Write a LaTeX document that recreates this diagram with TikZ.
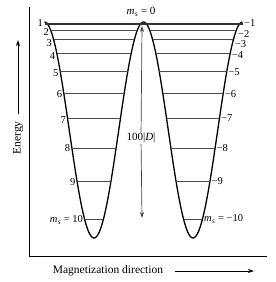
\documentclass[tikz,border=0pt]{standalone}
\usepackage{fontspec}
\setmainfont{Liberation Serif}
\usetikzlibrary{arrows.meta}
\newcommand{\msub}{\textit{m}\kern0.3pt\textsubscript{\textit{s}}}

\begin{document}
\begin{tikzpicture}[x=1pt, y=-1pt, font=\fontsize{11}{13}\selectfont,
  level/.style={black!70, line width=0.6pt},
  well/.style={line width=1.3pt, line join=round},
  lab/.style={inner xsep=1.5pt, inner ysep=0pt, font=\fontsize{10.5}{12}\selectfont},
  tip/.style={-{Stealth[length=6pt,width=4pt]}}]
  \useasboundingbox (0,0) rectangle (276,282);
  % axes
  \draw[line width=1pt] (29,7) -- (29,256) -- (267,256);
  \node[rotate=90, font=\fontsize{11.5}{13}\selectfont] (energy) at (18,138) {Energy};
  \coordinate (energytip) at (18,40);
  \draw[tip, line width=0.8pt] ([yshift=4pt]energy.east) -- (energytip);
  \node[font=\fontsize{11.5}{13}\selectfont] (magdir) at (108,271) {Magnetization direction};
  \coordinate (magtip) at (254,271);
  \draw[tip, line width=0.8pt] ([xshift=8pt]magdir.east) -- (magtip);
  % double well
  \draw[well] plot[domain=44.5:242.5, samples=201, smooth] (\x,{130+108*cos(3.63636*(\x-94))});
  % top level
  \coordinate (a1) at (44.5,24);
  \coordinate (d1) at (242.5,24);
  \draw[level, line width=1.2pt, black!80] (a1) -- (d1);
  \node[lab, left, yshift=1pt] (L1) at (a1) {1};
  \node[lab, right, yshift=0.5pt] (R1) at (d1) {−1};
  % levels m = 2 ... 10 (label shifts left/right)
  \foreach \m/\dl/\dr in {2/-2.5/-4, 3/-3.5/-4.8, 4/-2.5/-1.5, 5/-2/-1, 6/-1/-1,
                          7/-2/0, 8/0/0, 9/-1/0, 10/-1/0} {
    \pgfmathsetmacro\yy{22+1.97*\m*\m}
    \pgfmathsetmacro\ww{0.275*acos((\yy-130)/108)}
    \coordinate (a\m) at (94-\ww,\yy);
    \coordinate (b\m) at (94+\ww,\yy);
    \coordinate (c\m) at (193-\ww,\yy);
    \coordinate (d\m) at (193+\ww,\yy);
    \draw[level] (a\m) -- (b\m) (c\m) -- (d\m);
    \ifnum\m=10
      \node[lab, left, yshift=\dl pt] (L\m) at (a\m) {\msub{} = 10};
      \node[lab, right, yshift=\dr pt] (R\m) at (d\m) {\msub{} = −10};
    \else
      \node[lab, left, yshift=\dl pt] (L\m) at (a\m) {\m};
      \node[lab, right, yshift=\dr pt] (R\m) at (d\m) {−\m};
    \fi
  }
  % m_s = 0 and the depth
  \node (ms0) at (141,12) {\msub{} = 0};
  \node[fill=white, inner sep=1pt] (depth) at (141,138) {100|\textit{D}|};
  \coordinate (depthtop) at (142,26);
  \coordinate (depthbot) at (142,218);
  \draw[tip, line width=0.7pt, black!75] (depth) -- (depthtop);
  \draw[tip, line width=0.7pt, black!75] (depth) -- (depthbot);
\end{tikzpicture}
\end{document}
